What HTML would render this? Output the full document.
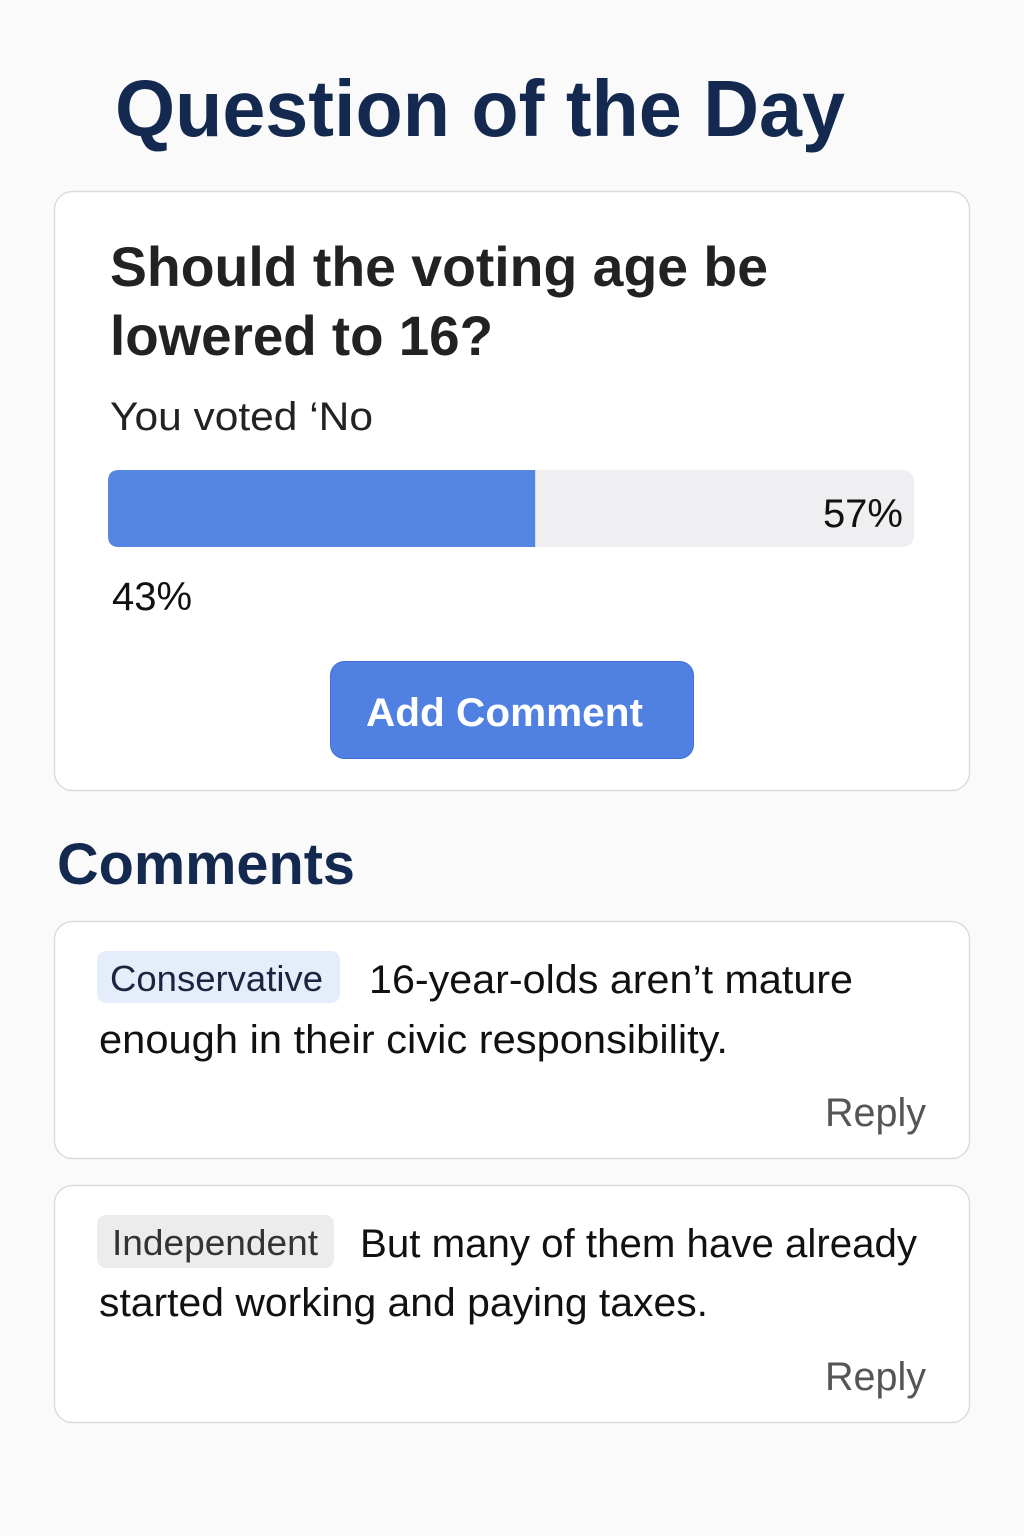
<!DOCTYPE html>
<html><head><meta charset="utf-8"><style>
html,body{margin:0;padding:0;background:#fafafa;}
svg{display:block;font-family:"Liberation Sans",sans-serif;}
</style></head><body>
<svg width="1024" height="1536" viewBox="0 0 1024 1536">
<rect x="0" y="0" width="1024" height="1536" fill="#fafafa"/>
<text x="115" y="136" font-size="80" font-weight="bold" fill="#13294f" textLength="730" lengthAdjust="spacingAndGlyphs">Question of the Day</text>

<rect x="54.5" y="191.5" width="915" height="599" rx="18" fill="#fff" stroke="#dcdcdc" stroke-width="1.5"/>
<text x="110" y="286" font-size="56" font-weight="bold" fill="#222" textLength="658" lengthAdjust="spacingAndGlyphs">Should the voting age be</text>
<text x="110" y="355" font-size="56" font-weight="bold" fill="#222" textLength="383" lengthAdjust="spacingAndGlyphs">lowered to 16?</text>
<text x="110" y="430" font-size="40" fill="#222" textLength="263" lengthAdjust="spacingAndGlyphs">You voted ‘No</text>

<g id="bar"></g>

<rect x="330.5" y="661.5" width="363" height="97" rx="14" fill="#4f80e2" stroke="#3f6fd8"/>
<text x="366" y="726" font-size="40" font-weight="bold" fill="#fff" textLength="277" lengthAdjust="spacingAndGlyphs">Add Comment</text>

<text x="57" y="884" font-size="58" font-weight="bold" fill="#13294f" textLength="298" lengthAdjust="spacingAndGlyphs">Comments</text>

<rect x="54.5" y="921.5" width="915" height="237" rx="18" fill="#fff" stroke="#dcdcdc" stroke-width="1.5"/>
<rect x="97" y="951" width="243" height="52" rx="9" fill="#e6edfa"/>
<text x="110" y="991" font-size="36" fill="#1c2440" textLength="213" lengthAdjust="spacingAndGlyphs">Conservative</text>
<text x="369" y="993" font-size="40" fill="#111" textLength="484" lengthAdjust="spacingAndGlyphs">16-year-olds aren’t mature</text>
<text x="99" y="1053" font-size="40" fill="#111" textLength="629" lengthAdjust="spacingAndGlyphs">enough in their civic responsibility.</text>
<text x="825" y="1126" font-size="40" fill="#555" textLength="101" lengthAdjust="spacingAndGlyphs">Reply</text>

<rect x="54.5" y="1185.5" width="915" height="237" rx="18" fill="#fff" stroke="#dcdcdc" stroke-width="1.5"/>
<rect x="97" y="1215" width="237" height="53" rx="9" fill="#ececec"/>
<text x="112" y="1255" font-size="36" fill="#333" textLength="206" lengthAdjust="spacingAndGlyphs">Independent</text>
<text x="360" y="1257" font-size="40" fill="#111" textLength="557" lengthAdjust="spacingAndGlyphs">But many of them have already</text>
<text x="99" y="1316" font-size="40" fill="#111" textLength="609" lengthAdjust="spacingAndGlyphs">started working and paying taxes.</text>
<text x="825" y="1390" font-size="40" fill="#555" textLength="101" lengthAdjust="spacingAndGlyphs">Reply</text>
</svg>
<script>
const voteLabels = ["43%", "57%"];
const fillShare = [53];
const NS = "http://www.w3.org/2000/svg";
const g = document.getElementById('bar');
const x0 = 108, x1 = 914, y0 = 470, h = 77;
function xScale(p){ return x0 + (x1 - x0) * p / 100; }
const track = document.createElementNS(NS, 'rect');
track.setAttribute('x', x0); track.setAttribute('y', y0); track.setAttribute('width', x1 - x0); track.setAttribute('height', h); track.setAttribute('rx', 11); track.setAttribute('fill', '#efeff1');


g.appendChild(track);
const w = xScale(fillShare[0]) - x0;
const fill = document.createElementNS(NS, 'path');
const r = 11;
fill.setAttribute('d', `M${x0+r},${y0} H${x0+w} V${y0+h} H${x0+r} Q${x0},${y0+h} ${x0},${y0+h-r} V${y0+r} Q${x0},${y0} ${x0+r},${y0} Z`);
fill.setAttribute('fill', '#5585e2');


g.appendChild(fill);
const t1 = document.createElementNS(NS, 'text');
t1.setAttribute('x', 903); t1.setAttribute('y', 527); t1.setAttribute('text-anchor', 'end'); t1.setAttribute('font-size', '40'); t1.setAttribute('fill', '#111');
t1.textContent = voteLabels[1];


g.appendChild(t1);
const t2 = document.createElementNS(NS, 'text');
t2.setAttribute('x', 112); t2.setAttribute('y', 610); t2.setAttribute('font-size', '40'); t2.setAttribute('fill', '#111');
t2.textContent = voteLabels[0];


g.appendChild(t2);
</script>
</body></html>
